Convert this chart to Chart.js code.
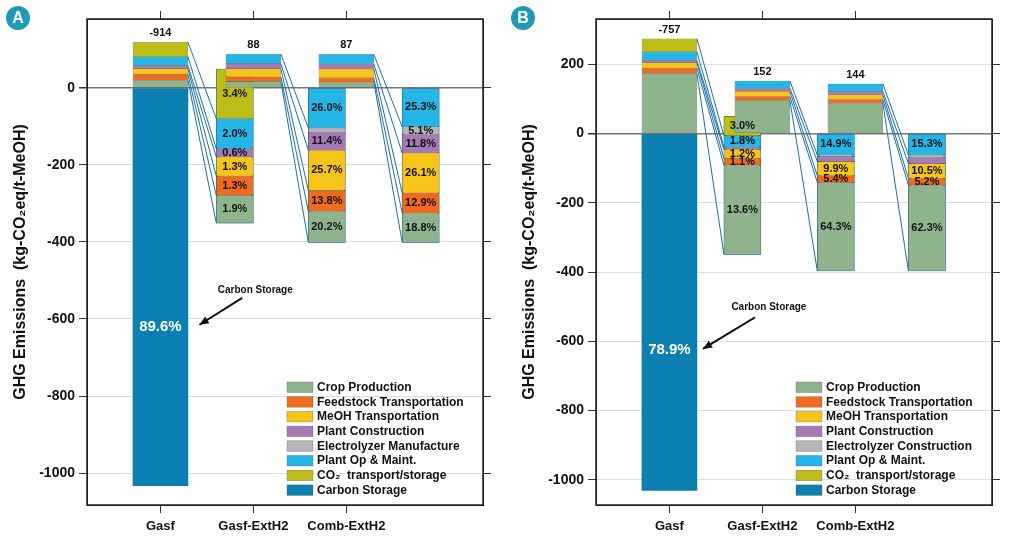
<!DOCTYPE html>
<html><head><meta charset="utf-8">
<script src="https://cdn.jsdelivr.net/npm/chart.js@4"></script>
<style>
body{margin:0;background:#fff;width:1013px;height:544px;overflow:hidden;font-family:"Liberation Sans",Arial,sans-serif}
.p{position:absolute;top:0;height:544px}
.badge{position:absolute;top:6px;width:24px;height:24px;border-radius:12px;background:#1f9bb8;color:#fff;font:bold 16px "Liberation Sans",Arial;text-align:center;line-height:24px}
</style></head><body>
<div class="p" style="left:0;width:506px"><canvas id="cA" width="506" height="544"></canvas></div>
<div class="p" style="left:506px;width:507px"><canvas id="cB" width="507" height="544"></canvas></div>
<div class="badge" style="left:6px">A</div>
<div class="badge" style="left:511px">B</div>
<script>
// series order: crop, feedstock, MeOH, plant construction, electrolyzer, plant op, CO2 transport
const seriesA = ["Crop Production","Feedstock Transportation","MeOH Transportation","Plant Construction","Electrolyzer Manufacture","Plant Op & Maint.","CO\u2082  transport/storage","Carbon Storage"];
const seriesB = ["Crop Production","Feedstock Transportation","MeOH Transportation","Plant Construction","Electrolyzer Construction","Plant Op & Maint.","CO\u2082  transport/storage","Carbon Storage"];
const colors = ["#8fb48d","#f26a1b","#f7c51a","#a47bb6","#b5b5b7","#25b6e8","#bdbd17","#0b80b1"];
const categories = ["Gasf","Gasf-ExtH2","Comb-ExtH2"];

// Panel A
const A_pos_Gasf = [20,15,15,8,0,23,38];
const A_pos_GasfExt = [16.5,12,21.5,13,0,25,0];
const A_pos_Comb = [15,11,23,13,0,25,0];
const A_carbon = -1033;
const A_net = ["-914","88","87"];
// breakdown bars, segments listed top-down: CO2, op, elec, plant, MeOH, feed, crop
const A_bd_start = [49,0,0];
const A_bd1 = [129,78,0,21,50,50,72];
const A_bd2 = [0,104,11,47,104,54,81];
const A_bd3 = [0,101,20,48,104,52,76];
const A_bd1_lab = ["3.4%","2.0%","","0.6%","1.3%","1.3%","1.9%"];
const A_bd2_lab = ["","26.0%","","11.4%","25.7%","13.8%","20.2%"];
const A_bd3_lab = ["","25.3%","5.1%","11.8%","26.1%","12.9%","18.8%"];
const A_carbon_lab = "89.6%";
const A_ticks = [0,-200,-400,-600,-800,-1000];

// Panel B
const B_pos_Gasf = [174,15,16,6.5,0,24.5,38];
const B_pos_GasfExt = [96,11,15,9,0,21,0];
const B_pos_Comb = [88,10.5,13.5,10,0,22,0];
const B_carbon = -1031;
const B_net = ["-757","152","144"];
const B_bd_start = [50,0,0];
const B_bd1 = [56,33,0,7,25,20,258];
const B_bd2 = [0,62,4,15,41,19,256];
const B_bd3 = [0,62,8,17,42,20,248];
const B_bd1_lab = ["3.0%","1.8%","","","1.2%","1.1%","13.6%"];
const B_bd2_lab = ["","14.9%","","","9.9%","5.4%","64.3%"];
const B_bd3_lab = ["","15.3%","","","10.5%","5.2%","62.3%"];
const B_carbon_lab = "78.9%";
const B_ticks = [200,0,-200,-400,-600,-800,-1000];

const FONT = '"Liberation Sans", Arial, sans-serif';
const bdOrder = [6,5,4,3,2,1,0]; // top-down series index

function build(id, P){
  const posRanges = P.pos.map(arr=>{let c=0;return arr.map(v=>{const r=[c,c+v];c+=v;return r;});});
  const bdRanges = P.bd.map((arr,k)=>{let c=P.bdStart[k];const out=new Array(7);arr.forEach((v,j)=>{out[bdOrder[j]]=[c-v,c];c-=v;});return out;});
  const ds=[];
  for(let s=0;s<7;s++){
    ds.push({data:posRanges.map((r,i)=>r[s][1]>r[s][0]?{x:P.xPos[i],y:r[s]}:null).filter(Boolean),
      backgroundColor:colors[s],borderColor:'rgba(60,60,60,0.5)',borderWidth:0.6,barThickness:55,grouped:false,borderSkipped:false});
    ds.push({data:bdRanges.map((r,i)=>r[s][1]>r[s][0]?{x:P.xBd[i],y:r[s]}:null).filter(Boolean),
      backgroundColor:colors[s],borderColor:'rgba(60,60,60,0.5)',borderWidth:0.6,barThickness:37,grouped:false,borderSkipped:false});
  }
  ds.push({data:[{x:P.xPos[0],y:[P.carbon,0]}],backgroundColor:colors[7],barThickness:55,grouped:false});
  ds.push({data:bdRanges.map((r,i)=>{const lo=Math.min(...r.map(q=>q[0]));const hi=Math.max(...r.map(q=>q[1]));return {x:P.xBd[i],y:[lo,hi]};}),
    backgroundColor:'rgba(0,0,0,0)',borderColor:'#1c74b4',borderWidth:P.outline,barThickness:37,grouped:false,borderSkipped:false});

  const plug={id:'extra'+id,
    beforeDatasetsDraw(ch){
      const {ctx,scales:{x,y}}=ch;ctx.save();ctx.strokeStyle='#1c6fa8';ctx.lineWidth=1;
      for(let i=0;i<3;i++){
        const xs=x.getPixelForValue(P.xPos[i])+27.5, xd=x.getPixelForValue(P.xBd[i])-18.5;
        for(let s=0;s<7;s++){
          const a=posRanges[i][s], b=bdRanges[i][s];
          if(a[1]>a[0] && b[1]>b[0]){ctx.beginPath();ctx.moveTo(xs,y.getPixelForValue(a[1]));ctx.lineTo(xd,y.getPixelForValue(b[0]));ctx.stroke();}
        }
      }
      ctx.restore();
    },
    afterDatasetsDraw(ch){
      const {ctx,scales:{x,y},chartArea:ca}=ch;ctx.save();
      ctx.textAlign='center';ctx.textBaseline='middle';
      ctx.fillStyle='#111';ctx.font='bold 11px '+FONT;
      for(let i=0;i<3;i++){
        const top=posRanges[i][6][1];
        ctx.fillText(P.net[i],x.getPixelForValue(P.xPos[i]),y.getPixelForValue(top)-9);
        P.labs[i].forEach((l,j)=>{if(!l)return;const r=bdRanges[i][bdOrder[j]];
          ctx.fillText(l,x.getPixelForValue(P.xBd[i]),y.getPixelForValue((r[0]+r[1])/2));});
      }
      ctx.fillStyle='#fff';ctx.font='bold 15px '+FONT;
      ctx.fillText(P.carbonLab,x.getPixelForValue(P.xPos[0]),y.getPixelForValue(P.carbonLabY));
      ctx.fillStyle='#111';ctx.font='bold 10px '+FONT;
      ctx.fillText('Carbon Storage',x.getPixelForValue(P.ann[0]),y.getPixelForValue(P.ann[1]));
      const x1=x.getPixelForValue(P.ann[2]),y1=y.getPixelForValue(P.ann[3]),x2=x.getPixelForValue(P.ann[4]),y2=y.getPixelForValue(P.ann[5]);
      ctx.strokeStyle='#111';ctx.lineWidth=2;ctx.beginPath();ctx.moveTo(x1,y1);ctx.lineTo(x2,y2);ctx.stroke();
      const ang=Math.atan2(y2-y1,x2-x1);ctx.beginPath();ctx.moveTo(x2,y2);
      ctx.lineTo(x2-10*Math.cos(ang-0.4),y2-10*Math.sin(ang-0.4));ctx.lineTo(x2-10*Math.cos(ang+0.4),y2-10*Math.sin(ang+0.4));ctx.closePath();ctx.fill();
      ctx.textAlign='left';ctx.font='bold 12px '+FONT;
      const lx=ca.right-P.legW, ly=ca.bottom-118;
      P.names.forEach((n,k)=>{
        ctx.fillStyle=colors[k];ctx.fillRect(lx,ly+k*14.7-5,26,10.5);
        ctx.strokeStyle='rgba(80,80,80,0.5)';ctx.lineWidth=0.6;ctx.strokeRect(lx,ly+k*14.7-5,26,10.5);
        ctx.fillStyle='#111';ctx.fillText(n,lx+30,ly+k*14.7+0.5);
      });
      ctx.strokeStyle='#222';ctx.lineWidth=1.5;ctx.strokeRect(ca.left,ca.top,ca.right-ca.left,ca.bottom-ca.top);
      ctx.restore();
    }};

  new Chart(document.getElementById(id),{type:'bar',data:{datasets:ds},plugins:[plug],
    options:{responsive:false,animation:false,events:[],
      layout:{padding:{left:P.padL,right:P.padR,top:11,bottom:0}},
      plugins:{legend:{display:false},tooltip:{enabled:false}},
      scales:{
        x:{type:'linear',min:0.21,max:4.47,offset:false,bounds:'data',
          afterBuildTicks:s=>{s.ticks=[1,2,3].map(v=>({value:v}));},
          afterFit:s=>{s.height=39;},
          ticks:{callback:v=>categories[v-1],color:'#111',font:{family:FONT,size:13,weight:'bold'},maxRotation:0,autoSkip:false,padding:6},
          grid:{drawOnChartArea:false,offset:false,tickLength:8,color:'#333'},border:{color:'#222'}},
        x2:{type:'linear',position:'top',min:0.21,max:4.47,offset:false,
          afterBuildTicks:s=>{s.ticks=[1,2,3].map(v=>({value:v}));},
          afterFit:s=>{s.height=8;},
          ticks:{display:false},grid:{drawOnChartArea:false,offset:false,tickLength:8,color:'#333'},border:{color:'#222'}},
        y:{min:P.ymin,max:P.ymax,
          afterBuildTicks:s=>{s.ticks=P.ticks.map(v=>({value:v}));},
          afterFit:s=>{s.width=P.yw;},
          title:{display:true,text:'GHG Emissions  (kg-CO\u2082eq/t-MeOH)',color:'#111',font:{family:FONT,size:16,weight:'bold'},padding:{bottom:4}},
          ticks:{callback:v=>String(v),color:'#111',font:{family:FONT,size:14,weight:'bold'},padding:4},
          grid:{color:c=>c.tick&&c.tick.value===0?'#777':'#dcdcdc',tickColor:'#333',tickLength:8,lineWidth:c=>c.tick&&c.tick.value===0?1.5:1},border:{color:'#222'}},
        y2:{position:'right',min:P.ymin,max:P.ymax,
          afterBuildTicks:s=>{s.ticks=P.ticks.map(v=>({value:v}));},
          afterFit:s=>{s.width=8;},
          ticks:{display:false},grid:{drawOnChartArea:false,tickLength:8,color:'#333'},border:{color:'#222'}}
      }}});
}

build('cA',{pos:[A_pos_Gasf,A_pos_GasfExt,A_pos_Comb],bd:[A_bd1,A_bd2,A_bd3],bdStart:A_bd_start,labs:[A_bd1_lab,A_bd2_lab,A_bd3_lab],
  carbon:A_carbon,net:A_net,carbonLab:A_carbon_lab,carbonLabY:-620,ticks:A_ticks,ymin:-1083,ymax:179,names:seriesA,
  xPos:[1,2,3],xBd:[1.8,2.79,3.8],ann:[2.02,-525,1.88,-545,1.42,-615],outline:1.5,padL:7,padR:15,yw:80,legW:196});
build('cB',{pos:[B_pos_Gasf,B_pos_GasfExt,B_pos_Comb],bd:[B_bd1,B_bd2,B_bd3],bdStart:B_bd_start,labs:[B_bd1_lab,B_bd2_lab,B_bd3_lab],
  carbon:B_carbon,net:B_net,carbonLab:B_carbon_lab,carbonLabY:-624,ticks:B_ticks,ymin:-1073,ymax:331,names:seriesB,
  xPos:[1,2,3],xBd:[1.785,2.79,3.77],ann:[2.07,-502,1.92,-531,1.36,-622],outline:2.5,padL:10,padR:13,yw:80,legW:196});
</script></body></html>
